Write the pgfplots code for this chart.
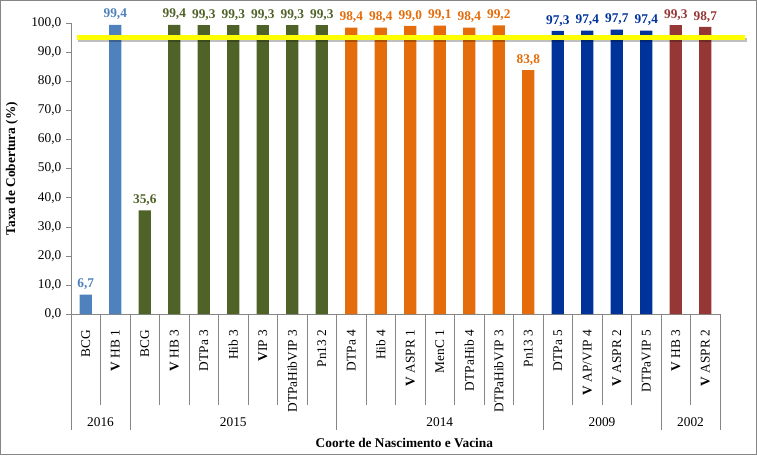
\documentclass[border=0pt]{standalone}
\usepackage{pgfplots}
\pgfplotsset{compat=1.18}
\usepackage{fontspec}
\setmainfont{Liberation Serif}

\definecolor{c2016}{RGB}{79,129,189}
\definecolor{c2015}{RGB}{79,98,40}
\definecolor{c2014}{RGB}{228,108,10}
\definecolor{c2009}{RGB}{0,51,153}
\definecolor{c2002}{RGB}{149,55,53}
\definecolor{axisgray}{RGB}{134,134,134}
\definecolor{refyellow}{RGB}{255,255,0}

\begin{document}
\begin{tikzpicture}
\useasboundingbox (0,0) rectangle (567.75pt,-341.25pt);
\draw[axisgray, line width=0.75pt] (0.4pt,-0.4pt) rectangle (567.35pt,-340.85pt);

\begin{axis}[
at={(53.25pt,-235.5pt)}, anchor=south west,
width=486.75pt, height=218.25pt, scale only axis,
xmin=-0.5, xmax=21.5, ymin=0, ymax=100,
clip=false,
axis x line*=bottom, axis y line*=left,
axis line style={axisgray},
tick align=outside,
major tick length=3.75pt,
ytick={0,10,...,100},
ytick style={axisgray},
yticklabel style={font=\fontsize{10}{12}\selectfont},
xtick={0,...,21},
xtick style={draw=none},
xticklabels={BCG, {\textbf{V} HB 1}, BCG, {\textbf{V} HB 3}, DTPa 3, Hib 3,
  {\textbf{V}IP 3}, DTPaHibVIP 3, Pn13 2, DTPa 4, Hib 4, {\textbf{V} ASPR 1},
  MenC 1, DTPaHib 4, DTPaHibVIP 3, Pn13 3, DTPa 5, {\textbf{V} AP/VIP 4},
  {\textbf{V} ASPR 2}, DTPaVIP 5, {\textbf{V} HB 3}, {\textbf{V} ASPR 2}},
xticklabel style={rotate=90, anchor=east, inner sep=0pt, font=\fontsize{10}{12}\selectfont},
xticklabel shift=8pt,
ylabel={\textbf{Taxa de Cobertura (\%)}},
ylabel style={at={(axis description cs:-0.091,0.5)}, anchor=center, font=\fontsize{10}{12}\selectfont},
/pgf/number format/use comma,
/pgf/number format/fixed,
/pgf/number format/fixed zerofill,
/pgf/number format/precision=1,
/pgf/number format/assume math mode=true,
every node near coord/.append style={font=\bfseries\fontsize{10}{12}\selectfont},
]

\addplot[ybar, bar width=0.41, bar shift=0pt, fill=c2016, draw=none,
  nodes near coords, every node near coord/.append style={text=c2016}]
  coordinates {(0,6.7) (1,99.4)};
\addplot[ybar, bar width=0.41, bar shift=0pt, fill=c2015, draw=none,
  nodes near coords, every node near coord/.append style={text=c2015}]
  coordinates {(2,35.6) (3,99.4) (4,99.3) (5,99.3) (6,99.3) (7,99.3) (8,99.3)};
\addplot[ybar, bar width=0.41, bar shift=0pt, fill=c2014, draw=none,
  nodes near coords, every node near coord/.append style={text=c2014}]
  coordinates {(9,98.4) (10,98.4) (11,99.0) (12,99.1) (13,98.4) (14,99.2) (15,83.8)};
\addplot[ybar, bar width=0.41, bar shift=0pt, fill=c2009, draw=none,
  nodes near coords, every node near coord/.append style={text=c2009}]
  coordinates {(16,97.3) (17,97.4) (18,97.7) (19,97.4)};
\addplot[ybar, bar width=0.41, bar shift=0pt, fill=c2002, draw=none,
  nodes near coords, every node near coord/.append style={text=c2002}]
  coordinates {(20,99.3) (21,98.7)};

% reference line at 95 %
\draw[black, opacity=0.25, line width=3pt] ([yshift=-2pt]axis cs:-0.25,95) -- ([yshift=-2pt]axis cs:22.4,95);
\addplot[refyellow, line width=3.5pt] coordinates {(-0.3,95) (22.35,95)};

% category separators
\pgfplotsinvokeforeach{0.5,2.5,3.5,4.5,5.5,6.5,7.5,9.5,10.5,11.5,12.5,13.5,14.5,16.5,17.5,18.5,20.5}{
  \draw[axisgray] (axis cs:#1,0) -- (axis cs:#1,-31.27);
}
\pgfplotsinvokeforeach{-0.5,1.5,8.5,15.5,19.5,21.5}{
  \draw[axisgray] (axis cs:#1,0) -- (axis cs:#1,-39.9);
}

% cohort years
\node[font=\fontsize{10}{12}\selectfont] at (axis cs:0.5,-37.0) {2016};
\node[font=\fontsize{10}{12}\selectfont] at (axis cs:5,-37.0) {2015};
\node[font=\fontsize{10}{12}\selectfont] at (axis cs:12,-37.0) {2014};
\node[font=\fontsize{10}{12}\selectfont] at (axis cs:17.5,-37.0) {2009};
\node[font=\fontsize{10}{12}\selectfont] at (axis cs:20.5,-37.0) {2002};

\node[font=\bfseries\fontsize{10}{12}\selectfont] at (axis cs:10.8,-44.2) {Coorte de Nascimento e Vacina};

\end{axis}
\end{tikzpicture}
\end{document}
